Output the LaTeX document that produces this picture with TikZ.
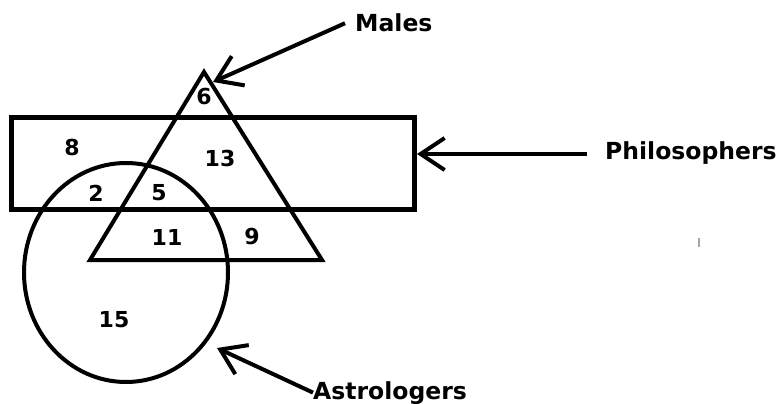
\documentclass[tikz,border=0pt]{standalone}
\usepackage{fontspec}
\setmainfont{DejaVu Sans}
\usetikzlibrary{arrows.meta,shapes.geometric}
\tikzset{
  setline/.style={draw=black,line width=4pt},
  boxline/.style={draw=black,line width=5pt},
  pointer/.style={draw=black,line width=4pt,-{Straight Barb[length=24pt,width=32pt]}},
  setname/.style={font=\fontsize{23.5}{28}\selectfont\bfseries,inner sep=0pt,anchor=base west},
  countfont/.style={font=\fontsize{22}{26}\selectfont\bfseries,inner sep=0pt},
}
\newcommand{\vcount}[3]{\node[countfont] (#1) at (#2) {#3};}

\begin{document}
\begin{tikzpicture}[x=1pt,y=-1pt]
        \useasboundingbox (0,0) rectangle (780,404);
        % the three sets
        \node[boxline,minimum width=402.5pt,minimum height=91.5pt,inner sep=0pt] (philo) at (212.75,163.75) {};
        \node[setline,ellipse,minimum width=204pt,minimum height=219pt,inner sep=0pt] (astro) at (126,272.5) {};
        \coordinate (mTop) at (204,72);
        \coordinate (mLeft) at (90,260);
        \coordinate (mRight) at (322,260);
        \draw[setline,line join=miter] (mTop) -- (mRight) -- (mLeft) -- cycle;
        % region counts
        \vcount{nA}{204,97}{6}\vcount{nB}{72,147}{8}
        \vcount{nC}{220,158}{13}\vcount{nD}{96,193}{2}
        \vcount{nE}{159,193}{5}\vcount{nF}{167,237}{11}
        \vcount{nG}{252,237}{9}\vcount{nH}{114,320}{15}
        % set names and pointers
        \node[setname] (maleName) at (355,32) {Males};
        \node[setname] (philoName) at (605,160) {Philosophers};
        \node[setname] (astroName) at (313,399) {Astrologers};
        \coordinate (maleTip) at (213,82);
        \coordinate (philoTip) at (417,154);
        \coordinate (astroTip) at (217,348);
        \draw[pointer] ([xshift=-10pt]maleName.west) -- (maleTip);
        \draw[pointer] ([xshift=-18pt]philoName.west |- philoTip) -- (philoTip);
        \draw[pointer] (astroName.west) -- (astroTip);
        \draw[gray!70,line width=2pt] (699,238) -- (699,247);
      \end{tikzpicture}
\end{document}
